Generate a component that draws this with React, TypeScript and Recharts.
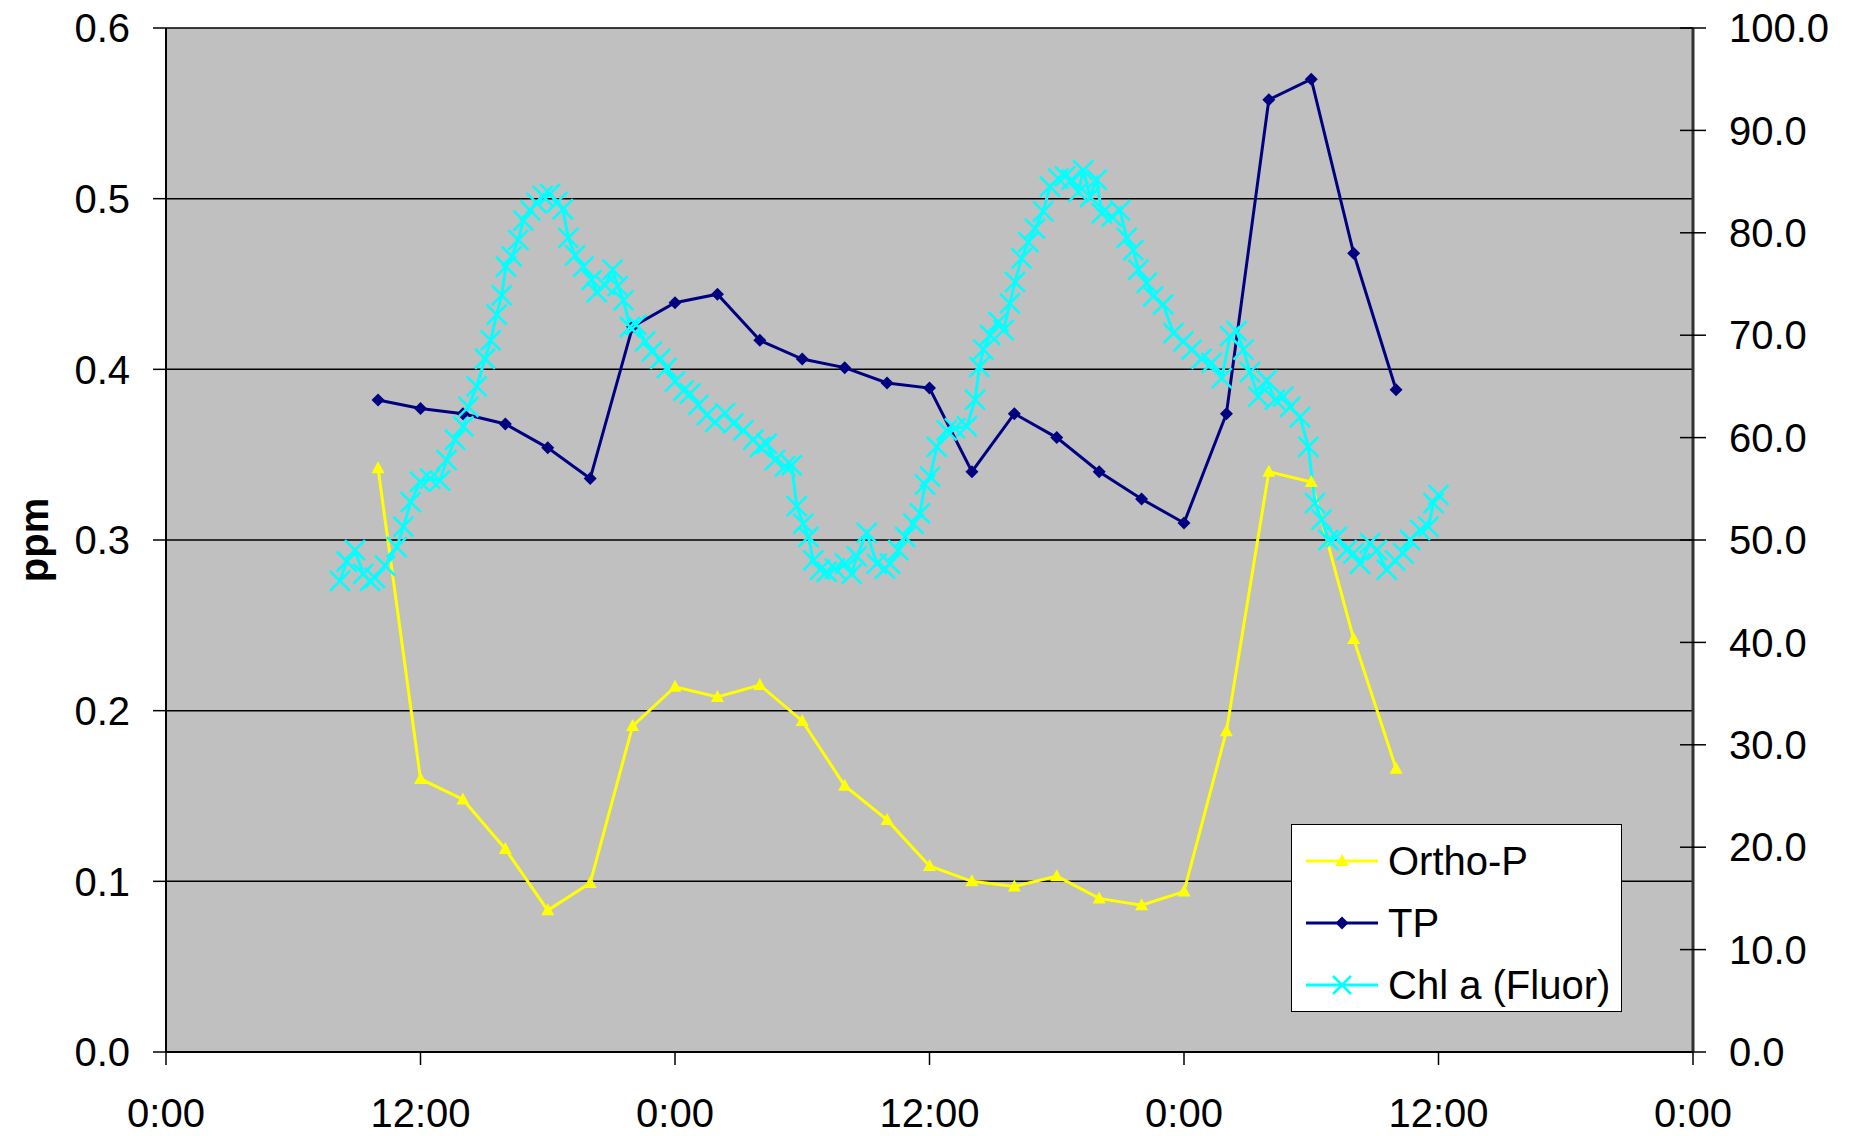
import React from "react";
import { LineChart, Line, XAxis, YAxis, CartesianGrid } from "recharts";

// sample times in hours from the first 0:00
const sampleHours = [10, 12, 14, 16, 18, 20, 22, 24, 26, 28, 30, 32, 34, 36, 38, 40, 42, 44, 46, 48, 50, 52, 54, 56, 58];
const orthoP = [0.342, 0.16, 0.148, 0.119, 0.083, 0.099, 0.191, 0.214, 0.208, 0.215, 0.194, 0.156, 0.136, 0.109, 0.1, 0.097, 0.103, 0.09, 0.086, 0.094, 0.188, 0.34, 0.334, 0.242, 0.166];
const tp = [0.382, 0.377, 0.374, 0.368, 0.354, 0.336, 0.425, 0.439, 0.444, 0.417, 0.406, 0.401, 0.392, 0.389, 0.34, 0.374, 0.36, 0.34, 0.324, 0.31, 0.374, 0.558, 0.57, 0.468, 0.388];

const chlHours = [
  8.2, 8.52, 8.91, 9.3, 9.62, 9.85, 10.33, 10.88, 11.19, 11.54, 11.98, 12.45, 12.92, 13.23, 13.63, 14.02, 14.26, 14.65, 15.04, 15.31,
  15.59, 15.83, 16.03, 16.3, 16.61, 16.85, 17.17, 17.48, 17.76, 18.11, 18.45, 18.71, 18.97, 19.29, 19.68, 20.07, 20.31, 20.7, 21.06, 21.3,
  21.57, 21.88, 22.17, 22.59, 22.9, 23.3, 23.61, 24.0, 24.4, 24.71, 25.1, 25.5, 25.89, 26.36, 26.75, 27.22, 27.69, 28.01, 28.32, 28.71,
  29.19, 29.5, 29.74, 30.05, 30.29, 30.52, 30.84, 31.15, 31.54, 32.02, 32.33, 32.57, 33.04, 33.51, 33.9, 34.14, 34.53, 34.85, 35.24, 35.55,
  35.79, 36.03, 36.34, 36.81, 37.2, 37.76, 38.15, 38.35, 38.54, 38.86, 39.25, 39.49, 39.79, 40.03, 40.34, 40.66, 40.97, 41.36, 41.68, 42.07,
  42.39, 42.7, 43.02, 43.25, 43.57, 43.88, 44.12, 44.59, 44.98, 45.3, 45.61, 45.85, 46.24, 46.55, 47.02, 47.5, 47.97, 48.36, 48.83, 49.3,
  49.78, 50.17, 50.48, 50.8, 51.11, 51.5, 51.9, 52.29, 52.68, 53.0, 53.47, 53.86, 54.18, 54.49, 54.81, 55.2, 55.67, 55.99, 56.3, 56.77,
  57.09, 57.56, 57.95, 58.34, 58.66, 59.13, 59.52, 59.76, 60.0,
];
const chlA = [
  46.0, 47.9, 49.0, 46.7, 46.0, 46.3, 47.5, 49.3, 51.3, 53.7, 55.7, 56.0, 55.8, 57.8, 59.8, 61.1, 63.0, 65.0, 67.7, 69.5,
  72.0, 73.9, 76.7, 77.7, 79.3, 81.2, 82.2, 82.9, 83.6, 83.8, 83.0, 82.3, 79.5, 77.8, 76.7, 75.4, 74.2, 74.9, 76.4, 74.8,
  73.4, 70.8, 71.0, 69.4, 68.4, 67.7, 66.8, 65.5, 64.6, 64.3, 63.2, 62.2, 61.5, 62.4, 61.4, 60.7, 59.8, 59.1, 59.4, 57.8,
  57.2, 57.3, 53.3, 51.6, 50.3, 48.0, 47.1, 46.9, 47.2, 47.7, 46.7, 48.4, 50.7, 47.7, 47.2, 47.7, 49.0, 50.3, 51.6, 52.6,
  55.4, 56.2, 59.1, 60.7, 60.9, 61.1, 63.7, 66.9, 68.6, 70.0, 71.3, 70.5, 73.1, 75.2, 77.5, 79.1, 80.4, 82.1, 84.5, 85.3,
  85.5, 85.2, 84.0, 86.1, 83.5, 85.2, 81.9, 81.6, 82.2, 79.5, 78.3, 76.4, 75.1, 73.8, 73.0, 70.2, 69.4, 68.6, 67.7, 67.3,
  65.8, 69.9, 70.4, 68.6, 66.4, 64.0, 65.6, 63.7, 64.0, 63.0, 62.0, 59.1, 53.6, 52.0, 50.0, 50.3, 49.0, 48.7, 47.7, 49.7,
  49.0, 47.1, 48.0, 48.7, 50.0, 51.0, 51.3, 53.6, 54.4,
];

const timeTicks = [0, 12, 24, 36, 48, 60, 72];
const timeLabels = ["0:00", "12:00", "0:00", "12:00", "0:00", "12:00", "0:00"];
const ppmTicks = [0, 0.1, 0.2, 0.3, 0.4, 0.5, 0.6];
const chlTicks = [0, 10, 20, 30, 40, 50, 60, 70, 80, 90, 100];

const orthoData = sampleHours.map((t, i) => ({ t, v: orthoP[i] }));
const tpData = sampleHours.map((t, i) => ({ t, v: tp[i] }));
const chlData = chlHours.map((t, i) => ({ t, v: chlA[i] }));

const FONT = "'Liberation Sans', Arial, sans-serif";
const tickStyle = { fontSize: 40, fill: "#000", fontFamily: FONT };
const RIGHT_AXIS_X = 1693;

function Triangle(props: any) {
  const { cx, cy, key } = props;
  if (cx == null || cy == null) return <g key={key} />;
  return <polygon key={key} points={`${cx},${cy - 7} ${cx - 6.5},${cy + 5} ${cx + 6.5},${cy + 5}`} fill="#FFFF00" />;
}

function Diamond(props: any) {
  const { cx, cy, key } = props;
  if (cx == null || cy == null) return <g key={key} />;
  return <polygon key={key} points={`${cx},${cy - 6.5} ${cx + 6.5},${cy} ${cx},${cy + 6.5} ${cx - 6.5},${cy}`} fill="#000080" />;
}

function Cross(props: any) {
  const { cx, cy, key } = props;
  if (cx == null || cy == null) return <g key={key} />;
  const r = 10;
  return (
    <g key={key} stroke="#00FFFF" strokeWidth={2.5}>
      <line x1={cx - r} y1={cy - r} x2={cx + r} y2={cy + r} />
      <line x1={cx - r} y1={cy + r} x2={cx + r} y2={cy - r} />
    </g>
  );
}

// right axis ticks cross the axis line, so draw the inner half here too
function RightTick(props: any) {
  const { x, y, payload } = props;
  return (
    <g>
      <line x1={RIGHT_AXIS_X - 13} y1={y} x2={RIGHT_AXIS_X} y2={y} stroke="#000" strokeWidth={1.5} />
      <text x={x} y={y} dy="0.355em" textAnchor="start" fontSize={40} fill="#000" fontFamily={FONT}>
        {Number(payload.value).toFixed(1)}
      </text>
    </g>
  );
}

function LegendBox() {
  const rows = [
    { name: "Ortho-P", color: "#FFFF00", icon: (cx: number, cy: number) => <polygon points={`${cx},${cy - 7} ${cx - 6.5},${cy + 5} ${cx + 6.5},${cy + 5}`} fill="#FFFF00" /> },
    { name: "TP", color: "#000080", icon: (cx: number, cy: number) => <polygon points={`${cx},${cy - 6.5} ${cx + 6.5},${cy} ${cx},${cy + 6.5} ${cx - 6.5},${cy}`} fill="#000080" /> },
    {
      name: "Chl a (Fluor)",
      color: "#00FFFF",
      icon: (cx: number, cy: number) => (
        <g stroke="#00FFFF" strokeWidth={2.5}>
          <line x1={cx - 9} y1={cy - 9} x2={cx + 9} y2={cy + 9} />
          <line x1={cx - 9} y1={cy + 9} x2={cx + 9} y2={cy - 9} />
        </g>
      ),
    },
  ];
  return (
    <div
      style={{
        position: "absolute",
        left: 1291,
        top: 824,
        width: 329,
        height: 186,
        background: "#fff",
        border: "1px solid #000",
        fontFamily: FONT,
      }}
    >
      {rows.map((r, i) => (
        <div key={r.name} style={{ position: "absolute", left: 0, top: 10 + i * 62, height: 52, display: "flex", alignItems: "center" }}>
          <svg width={96} height={52} style={{ display: "block" }}>
            <line x1={14} y1={26} x2={86} y2={26} stroke={r.color} strokeWidth={3} />
            {r.icon(50, 26)}
          </svg>
          <span style={{ fontSize: 40, color: "#000", lineHeight: "52px", whiteSpace: "nowrap" }}>{r.name}</span>
        </div>
      ))}
    </div>
  );
}

export default function App() {
  return (
    <div style={{ position: "absolute", left: 0, top: 0, width: 1854, height: 1136, background: "#fff", overflow: "hidden" }}>
      <LineChart width={1854} height={1136} margin={{ top: 28, right: 0, bottom: 0, left: 0 }}>
        <CartesianGrid yAxisId="left" vertical={false} horizontal stroke="#000" strokeWidth={1.5} fill="#C0C0C0" fillOpacity={1} />
        <XAxis
          dataKey="t"
          type="number"
          domain={[0, 72]}
          ticks={timeTicks}
          tickFormatter={(v: number) => timeLabels[timeTicks.indexOf(v)]}
          height={84}
          tickSize={13}
          tickMargin={34}
          tick={tickStyle}
          axisLine={{ stroke: "#000", strokeWidth: 2 }}
          tickLine={{ stroke: "#000", strokeWidth: 1.5 }}
          allowDuplicatedCategory={false}
        />
        <YAxis
          yAxisId="left"
          orientation="left"
          domain={[0, 0.6]}
          ticks={ppmTicks}
          tickFormatter={(v: number) => v.toFixed(1)}
          width={166}
          tickSize={13}
          tickMargin={23}
          tick={tickStyle}
          axisLine={{ stroke: "#000", strokeWidth: 2 }}
          tickLine={{ stroke: "#000", strokeWidth: 1.5 }}
        />
        <YAxis
          yAxisId="right"
          orientation="right"
          domain={[0, 100]}
          ticks={chlTicks}
          width={161}
          tickSize={13}
          tickMargin={23}
          tick={RightTick}
          axisLine={{ stroke: "#333", strokeWidth: 3 }}
          tickLine={{ stroke: "#000", strokeWidth: 1.5 }}
        />
        <Line
          yAxisId="left"
          data={orthoData}
          dataKey="v"
          name="Ortho-P"
          stroke="#FFFF00"
          strokeWidth={3}
          dot={Triangle}
          activeDot={false}
          isAnimationActive={false}
        />
        <Line
          yAxisId="left"
          data={tpData}
          dataKey="v"
          name="TP"
          stroke="#000080"
          strokeWidth={3}
          dot={Diamond}
          activeDot={false}
          isAnimationActive={false}
        />
        <Line
          yAxisId="right"
          data={chlData}
          dataKey="v"
          name="Chl a (Fluor)"
          stroke="#00FFFF"
          strokeWidth={3}
          dot={Cross}
          activeDot={false}
          isAnimationActive={false}
        />
      </LineChart>
      <div
        style={{
          position: "absolute",
          left: 34,
          top: 540,
          transform: "translate(-50%, -50%) rotate(-90deg)",
          fontFamily: FONT,
          fontWeight: "bold",
          fontSize: 40,
          color: "#000",
          whiteSpace: "nowrap",
        }}
      >
        ppm
      </div>
      <LegendBox />
    </div>
  );
}
